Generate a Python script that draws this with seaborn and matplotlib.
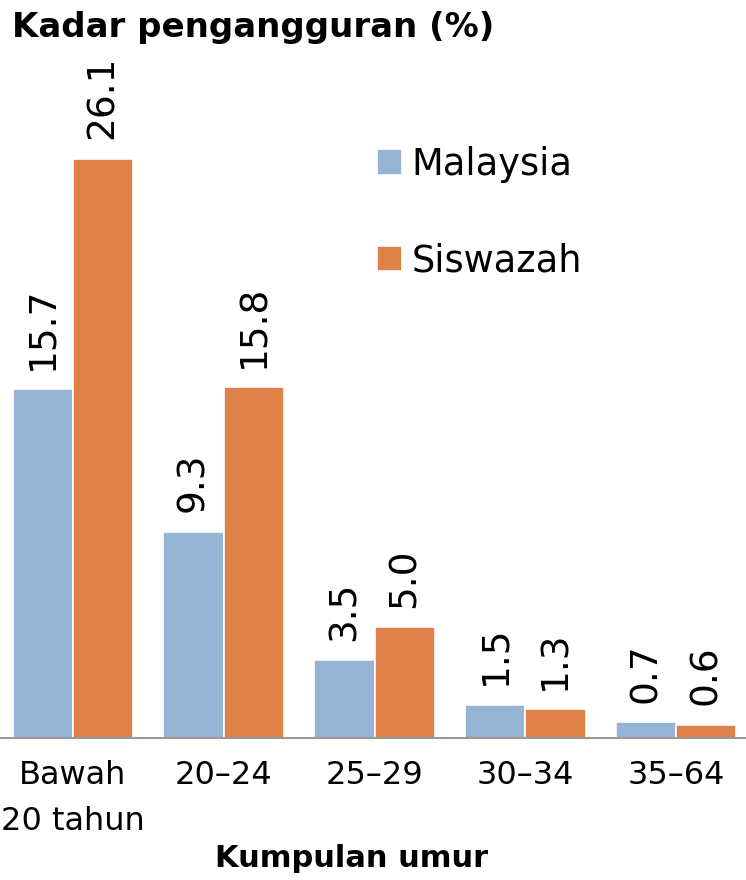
import matplotlib
matplotlib.use("Agg")
import matplotlib.pyplot as plt
import seaborn as sns
import pandas as pd

categories = ["Bawah\n20 tahun", "20–24", "25–29", "30–34", "35–64"]
malaysia = [15.7, 9.3, 3.5, 1.5, 0.7]
siswazah = [26.1, 15.8, 5.0, 1.3, 0.6]
series = ["Malaysia", "Siswazah"]
colors = ["#95b3d3", "#df8049"]

df = pd.DataFrame({
    "Kumpulan": categories * 2,
    "Siri": [series[0]] * len(categories) + [series[1]] * len(categories),
    "Nilai": malaysia + siswazah,
})

sns.set_style("white")
plt.rcParams["font.family"] = ["DejaVu Sans"]
plt.rcParams["text.color"] = "black"

fig = plt.figure(figsize=(7.46, 8.80), dpi=100)
ax = fig.add_axes([0.0, 1 - 738 / 880, 1.0, (738 - 60) / 880])

sns.barplot(data=df, x="Kumpulan", y="Nilai", hue="Siri", palette=colors,
            width=0.8, edgecolor="white", linewidth=1.2, ax=ax, saturation=1)

ax.set_xlim(-73 / 150.75, (746 - 73) / 150.75)
ax.set_ylim(0, 678 / 22.2)

for cont in ax.containers:
    labels = [f"{v:.1f}" for v in cont.datavalues]
    ax.bar_label(cont, labels=labels, rotation=90, padding=14, fontsize=27, color="black")

for s in ["top", "right", "left"]:
    ax.spines[s].set_visible(False)
ax.spines["bottom"].set_color("#999999")
ax.spines["bottom"].set_linewidth(1.5)
ax.set_yticks([])
ax.set_ylabel("")
ax.tick_params(axis="x", length=0, labelsize=23, pad=16, colors="black")
for lbl in ax.get_xticklabels():
    lbl.set_linespacing(1.6)
ax.set_xlabel("Kumpulan umur", fontsize=22, fontweight="bold", color="black")
ax.xaxis.set_label_coords(352 / 746, -(858 - 738) / 678, transform=ax.transAxes)
ax.xaxis.label.set_va("center")

leg = ax.legend(loc="upper left", bbox_to_anchor=(362 / 746, (738 - 131) / 678),
                frameon=False, fontsize=26.5, handlelength=0.7, handleheight=0.7,
                labelspacing=1.62, handletextpad=0.25, borderaxespad=0)
for t in leg.get_texts():
    t.set_color("black")

fig.text(12 / 746, 1 - 28 / 880, "Kadar pengangguran (%)", fontsize=24.5, fontweight="bold",
         va="center", ha="left", color="black")

fig.savefig("out.png", dpi=100)
